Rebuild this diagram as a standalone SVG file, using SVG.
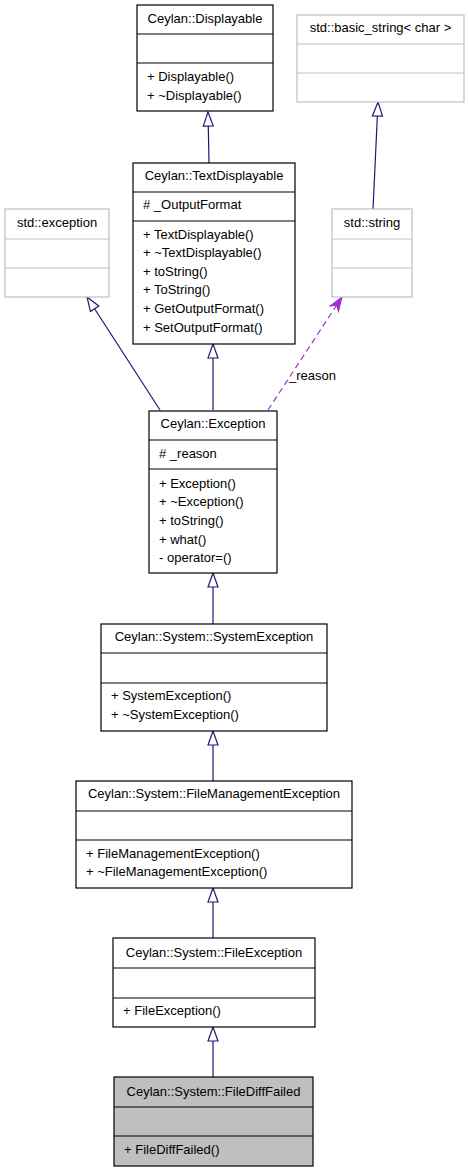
<svg xmlns="http://www.w3.org/2000/svg" width="468" height="1171" viewBox="0 0 468 1171">
<style>
text{font-family:"Liberation Sans",Arial,sans-serif;font-size:13px;fill:#000}
.t{text-anchor:middle}
.box{fill:#fff;stroke:#000;stroke-width:1.2}
.gbox{fill:#fff;stroke:#bfbfbf;stroke-width:1.2}
.cur{fill:#bfbfbf;stroke:#000;stroke-width:1.2}
.sep{stroke:#000;stroke-width:1.2}
.gsep{stroke:#bfbfbf;stroke-width:1.2}
.inh{fill:none;stroke:#191970;stroke-width:1.2}
.use{fill:none;stroke:#9a32cd;stroke-width:1.2;stroke-dasharray:6,4}
</style>
<defs>
<marker id="tri" viewBox="0 0 14 10" refX="14" refY="5" markerWidth="14" markerHeight="10" markerUnits="userSpaceOnUse" orient="auto" overflow="visible">
<path d="M0,0 L14,5 L0,10 Z" fill="#fff" stroke="#191970" stroke-width="1.2"/>
</marker>
<marker id="vee" viewBox="0 0 14 10" refX="14" refY="5" markerWidth="14" markerHeight="10" markerUnits="userSpaceOnUse" orient="auto" overflow="visible">
<path d="M0,0 L14,5 L0,10 L4,5 Z" fill="#9a32cd" stroke="#9a32cd" stroke-width="1"/>
</marker>
</defs>

<g id="connectors">
<path class="inh" d="M209,163 L208,112" marker-end="url(#tri)"/>
<path class="inh" d="M373,209 C375,170 377,130 378,102" marker-end="url(#tri)"/>
<path class="inh" d="M160,410 L87,297" marker-end="url(#tri)"/>
<path class="inh" d="M213,410 L213,344" marker-end="url(#tri)"/>
<path class="use" d="M268,410 L342,297" marker-end="url(#vee)"/>
<text x="289" y="380">_reason</text>
<path class="inh" d="M213,624 L213,573" marker-end="url(#tri)"/>
<path class="inh" d="M213,781 L213,731" marker-end="url(#tri)"/>
<path class="inh" d="M213,938 L213,888" marker-end="url(#tri)"/>
<path class="inh" d="M213,1077 L213,1027" marker-end="url(#tri)"/>
</g>

<g id="Displayable">
<rect class="box" x="137" y="5" width="136" height="106"/>
<line class="sep" x1="137" y1="34" x2="273" y2="34"/>
<line class="sep" x1="137" y1="63" x2="273" y2="63"/>
<text class="t" x="205" y="23">Ceylan::Displayable</text>
<text x="147" y="81">+ Displayable()</text>
<text x="147" y="100">+ ~Displayable()</text>
</g>

<g id="basic_string">
<rect class="gbox" x="297" y="15" width="167" height="87"/>
<line class="gsep" x1="297" y1="44" x2="464" y2="44"/>
<line class="gsep" x1="297" y1="73" x2="464" y2="73"/>
<text class="t" x="380.5" y="32">std::basic_string&lt; char &gt;</text>
</g>

<g id="TextDisplayable">
<rect class="box" x="133" y="163" width="162" height="181"/>
<line class="sep" x1="133" y1="192" x2="295" y2="192"/>
<line class="sep" x1="133" y1="221" x2="295" y2="221"/>
<text class="t" x="214" y="180">Ceylan::TextDisplayable</text>
<text x="143" y="209"># _OutputFormat</text>
<text x="143" y="239">+ TextDisplayable()</text>
<text x="143" y="257">+ ~TextDisplayable()</text>
<text x="143" y="276">+ toString()</text>
<text x="143" y="294">+ ToString()</text>
<text x="143" y="313">+ GetOutputFormat()</text>
<text x="143" y="332">+ SetOutputFormat()</text>
</g>

<g id="std_exception">
<rect class="gbox" x="5" y="209" width="104" height="88"/>
<line class="gsep" x1="5" y1="239" x2="109" y2="239"/>
<line class="gsep" x1="5" y1="268" x2="109" y2="268"/>
<text class="t" x="57" y="227">std::exception</text>
</g>

<g id="std_string">
<rect class="gbox" x="332" y="209" width="80" height="88"/>
<line class="gsep" x1="332" y1="239" x2="412" y2="239"/>
<line class="gsep" x1="332" y1="268" x2="412" y2="268"/>
<text class="t" x="372" y="227">std::string</text>
</g>

<g id="Exception">
<rect class="box" x="149" y="411" width="128" height="162"/>
<line class="sep" x1="149" y1="440" x2="277" y2="440"/>
<line class="sep" x1="149" y1="469" x2="277" y2="469"/>
<text class="t" x="213" y="428">Ceylan::Exception</text>
<text x="159" y="458"># _reason</text>
<text x="159" y="488">+ Exception()</text>
<text x="159" y="506">+ ~Exception()</text>
<text x="159" y="525">+ toString()</text>
<text x="159" y="544">+ what()</text>
<text x="159" y="562">- operator=()</text>
</g>

<g id="SystemException">
<rect class="box" x="101" y="624" width="226" height="107"/>
<line class="sep" x1="101" y1="653" x2="327" y2="653"/>
<line class="sep" x1="101" y1="683" x2="327" y2="683"/>
<text class="t" x="214" y="641">Ceylan::System::SystemException</text>
<text x="111" y="700">+ SystemException()</text>
<text x="111" y="719">+ ~SystemException()</text>
</g>

<g id="FileManagementException">
<rect class="box" x="76" y="781" width="276" height="107"/>
<line class="sep" x1="76" y1="811" x2="352" y2="811"/>
<line class="sep" x1="76" y1="840" x2="352" y2="840"/>
<text class="t" x="214" y="798">Ceylan::System::FileManagementException</text>
<text x="86" y="858">+ FileManagementException()</text>
<text x="86" y="876">+ ~FileManagementException()</text>
</g>

<g id="FileException">
<rect class="box" x="113" y="938" width="202" height="89"/>
<line class="sep" x1="113" y1="968" x2="315" y2="968"/>
<line class="sep" x1="113" y1="998" x2="315" y2="998"/>
<text class="t" x="214" y="957">Ceylan::System::FileException</text>
<text x="123" y="1015">+ FileException()</text>
</g>

<g id="FileDiffFailed">
<rect class="cur" x="114" y="1077" width="199" height="89"/>
<line class="sep" x1="114" y1="1107" x2="313" y2="1107"/>
<line class="sep" x1="114" y1="1136" x2="313" y2="1136"/>
<text class="t" x="213.5" y="1096">Ceylan::System::FileDiffFailed</text>
<text x="124" y="1154">+ FileDiffFailed()</text>
</g>
</svg>
